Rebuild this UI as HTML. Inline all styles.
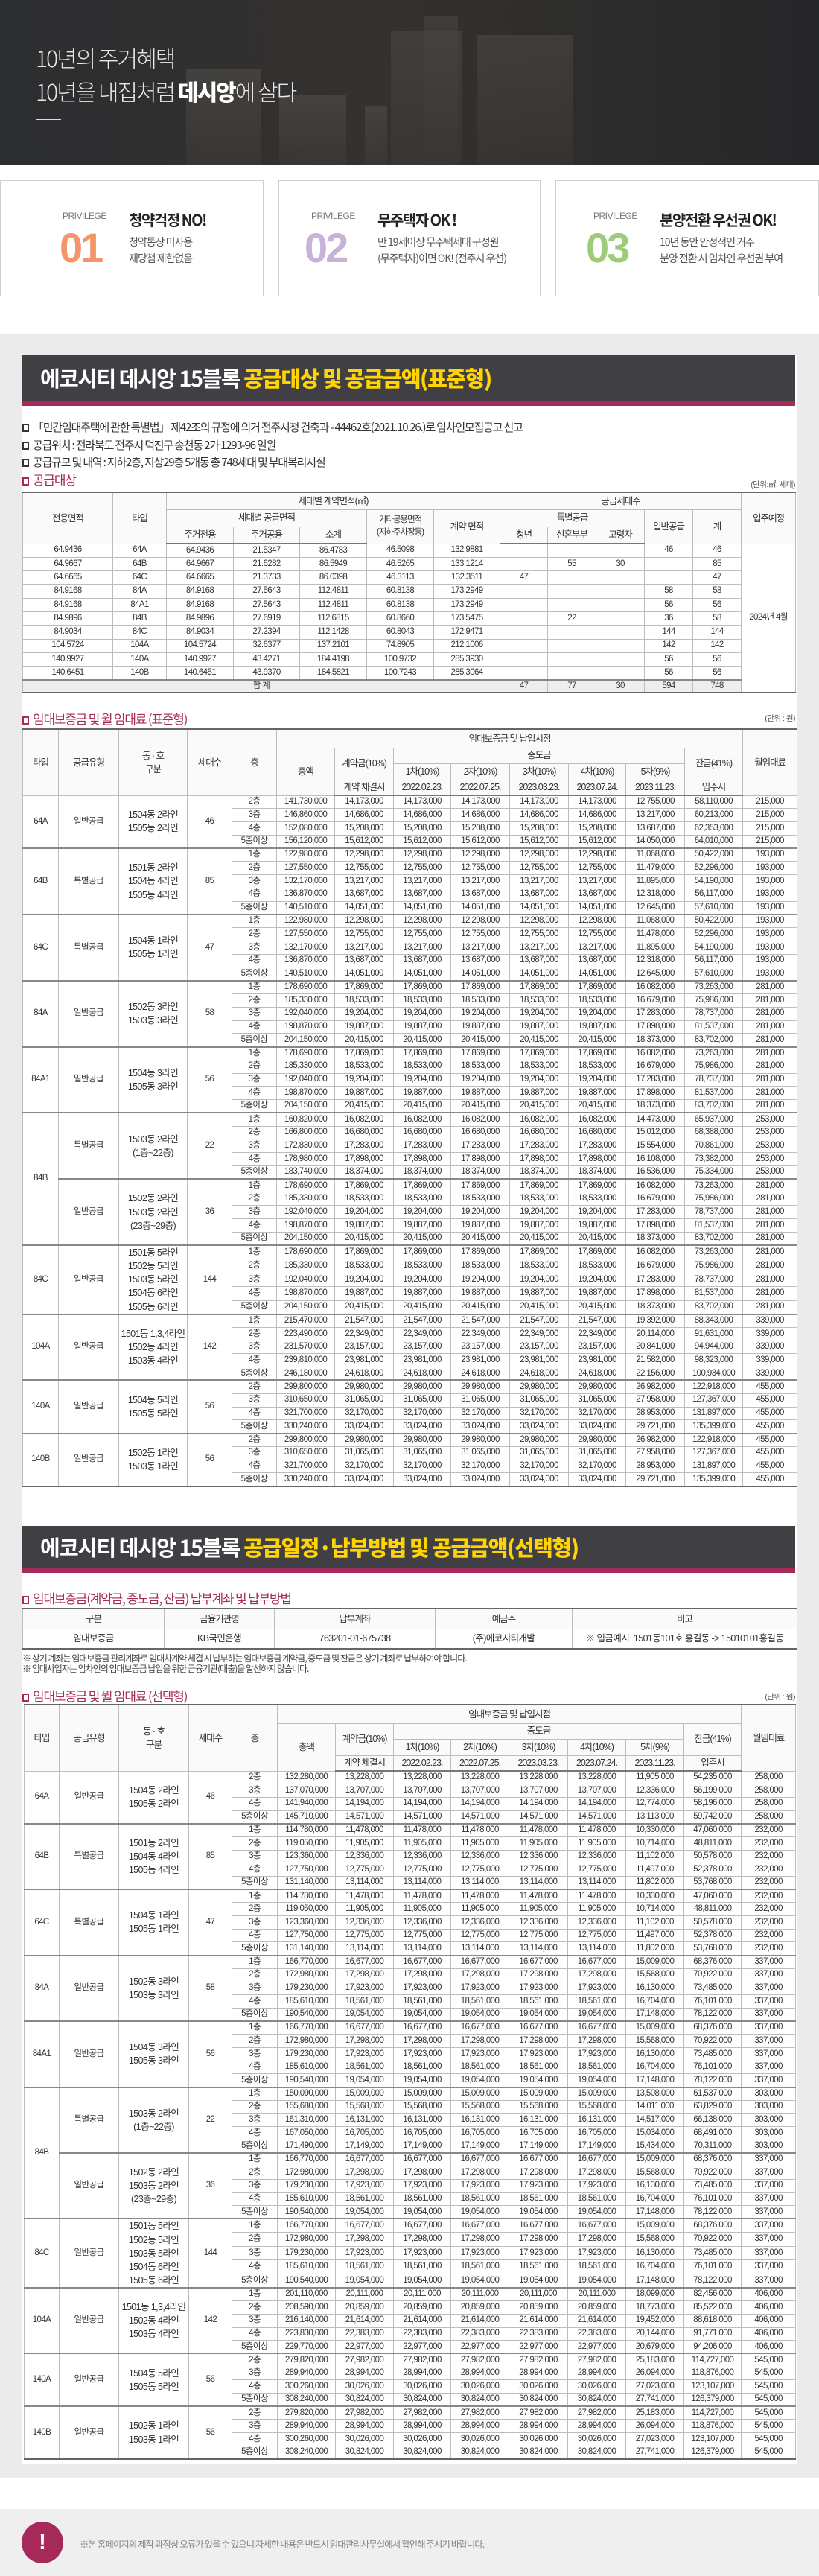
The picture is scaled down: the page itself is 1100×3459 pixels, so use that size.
<!DOCTYPE html>
<html><head><meta charset="utf-8">
<style>
*{margin:0;padding:0;box-sizing:border-box}
body{width:1100px;height:3459px;position:relative;background:#fff;font-family:"Liberation Sans","Noto Sans CJK KR",sans-serif;overflow:hidden}
.a{position:absolute}
.hero{left:0;top:0;width:1100px;height:222px;background:linear-gradient(90deg,#2c2d30 0%,#34322f 45%,#2e2d2c 70%,#252628 100%);overflow:hidden}
.bd{position:absolute;bottom:0;background:linear-gradient(180deg,#4a4744,#3a3734);opacity:.75}
.h1{left:48px;color:#e8e8e8;font-size:30px;font-weight:300;letter-spacing:-2px;font-family:"Noto Sans CJK KR",sans-serif}
.card{top:242px;height:156px;border:1px solid #cfcfcf;background:#fff}
.pv{font-size:12px;color:#777;letter-spacing:-.5px}
.num{font-size:56px;font-weight:bold;letter-spacing:-3px;line-height:1}
.ct{font-size:20px;font-weight:bold;color:#222;letter-spacing:-1.5px;font-family:"Noto Sans CJK KR",sans-serif}
.cs{font-size:14px;color:#555;letter-spacing:-1px;line-height:22px;font-family:"Noto Sans CJK KR",sans-serif}
.bar{left:30px;width:1038px;background:#3f3f44;border-bottom:7px solid #a52a5a;color:#fff;font-size:29px;font-weight:bold;letter-spacing:-1.5px;padding-left:24px;font-family:"Noto Sans CJK KR",sans-serif}
.bar b{color:#ffd400}
.bl{left:30px;font-size:15px;color:#333;letter-spacing:-1.2px;font-family:"Noto Sans CJK KR",sans-serif;white-space:nowrap}
.bl:before{content:"";display:inline-block;width:9px;height:11px;border:2px solid #333;margin-right:5px;vertical-align:-1px;box-sizing:border-box}
.bl.r{color:#a52a5a;font-size:17px}
.bl.r:before{border-color:#a52a5a}
.unit{font-size:10.5px;color:#555;letter-spacing:-.5px}
.t{position:absolute;border-collapse:collapse;table-layout:fixed;font-size:11.5px;color:#333;letter-spacing:-.6px;border-top:2px solid #666;border-bottom:2px solid #666}
.t td{border:1px solid #bdbdbd;text-align:center;padding:0;overflow:hidden;white-space:nowrap;line-height:1}
.t .hd td{background:#fafafa;font-size:12.5px;letter-spacing:-1px}
.t tr.hl td{border-bottom:2px solid #777}
.t tr.g td{border-top:2px solid #888}
.t .ml{line-height:1.45;font-size:12.5px}
.t2 tbody tr{height:17.77px}
.t3 tbody tr{height:17.7px}
.note{left:30px;font-size:12px;color:#444;letter-spacing:-1px;font-family:"Noto Sans CJK KR",sans-serif}
</style></head><body>

<div class="a hero">
 <div class="bd" style="left:250px;width:100px;height:130px"></div>
 <div class="bd" style="left:375px;width:90px;height:95px"></div>
 <div class="bd" style="left:490px;width:30px;height:80px"></div>
 <div class="bd" style="left:525px;width:95px;height:180px;opacity:.6"></div>
 <div class="bd" style="left:570px;width:45px;height:200px;opacity:.55"></div>
 <div class="bd" style="left:640px;width:130px;height:175px;opacity:.6"></div>
 <div class="a h1" style="top:55px">10년의 주거혜택</div>
 <div class="a h1" style="top:100px">10년을 내집처럼 <b style="font-weight:900;color:#fff">데시앙</b>에 살다</div>
 <div class="a" style="left:49px;top:160px;width:33px;height:1px;background:#ddd"></div>
</div>

<div class="a card" style="left:0;width:354px"></div>
<div class="a card" style="left:374px;width:352px"></div>
<div class="a card" style="left:746px;width:354px"></div>
<div class="a pv" style="left:84px;top:283px">PRIVILEGE</div>
<div class="a num" style="left:80px;top:305px;color:#f4956a">01</div>
<div class="a ct" style="left:173px;top:280px">청약걱정 NO!</div>
<div class="a cs" style="left:173px;top:314px">청약통장 미사용<br>재당첨 제한없음</div>
<div class="a pv" style="left:418px;top:283px">PRIVILEGE</div>
<div class="a num" style="left:409px;top:305px;color:#c5b3d8">02</div>
<div class="a ct" style="left:507px;top:280px">무주택자 OK !</div>
<div class="a cs" style="left:507px;top:314px">만 19세이상 무주택세대 구성원<br>(무주택자)이면 OK! (전주시 우선)</div>
<div class="a pv" style="left:797px;top:283px">PRIVILEGE</div>
<div class="a num" style="left:787px;top:305px;color:#9ccc7a">03</div>
<div class="a ct" style="left:886px;top:280px">분양전환 우선권 OK!</div>
<div class="a cs" style="left:886px;top:314px">10년 동안 안정적인 거주<br>분양 전환 시 임차인 우선권 부여</div>

<div class="a" style="left:0;top:448px;width:1100px;height:2879px;background:#ebebeb"></div>
<div class="a" style="left:29px;top:477px;width:1042px;height:2832px;background:#fff"></div>

<div class="a bar" style="top:477px;height:68px;line-height:60px">에코시티 데시앙 15블록 <b>공급대상 및 공급금액(표준형)</b></div>
<div class="a bl" style="top:563px">「민간임대주택에 관한 특별법」 제42조의 규정에 의거 전주시청 건축과 - 44462호(2021.10.26.)로 임차인모집공고 신고</div>
<div class="a bl" style="top:587px">공급위치 : 전라북도 전주시 덕진구 송천동 2가 1293-96 일원</div>
<div class="a bl" style="top:610px">공급규모 및 내역 : 지하2층, 지상29층 5개동 총 748세대 및 부대복리시설</div>
<div class="a bl r" style="top:631px">공급대상</div>
<div class="a unit" style="right:32px;top:643px">(단위:㎡, 세대)</div>

<table class="t" style="left:30px;top:660px;width:1038px">
<colgroup><col style="width:121px"><col style="width:72px"><col style="width:90px"><col style="width:89px"><col style="width:90px"><col style="width:90px"><col style="width:89px"><col style="width:64px"><col style="width:65px"><col style="width:65px"><col style="width:65px"><col style="width:65px"><col style="width:73px"></colgroup>
<tr class="hd" style="height:23px"><td rowspan="3">전용면적</td><td rowspan="3">타입</td><td colspan="5">세대별 계약면적(㎡)</td><td colspan="5">공급세대수</td><td rowspan="3">입주예정</td></tr>
<tr class="hd" style="height:23px"><td colspan="3">세대별 공급면적</td><td rowspan="2" class="ml" style="font-size:11.5px">기타공용면적<br>(지하주차장등)</td><td rowspan="2">계약 면적</td><td colspan="3">특별공급</td><td rowspan="2">일반공급</td><td rowspan="2">계</td></tr>
<tr class="hd hl" style="height:23px"><td>주거전용</td><td>주거공용</td><td>소계</td><td>청년</td><td>신혼부부</td><td>고령자</td></tr>
<tr style="height:18.3px"><td>64.9436</td><td>64A</td><td>64.9436</td><td>21.5347</td><td>86.4783</td><td>46.5098</td><td>132.9881</td><td></td><td></td><td></td><td>46</td><td>46</td><td rowspan="11">2024년 4월</td></tr>
<tr style="height:18.3px"><td>64.9667</td><td>64B</td><td>64.9667</td><td>21.6282</td><td>86.5949</td><td>46.5265</td><td>133.1214</td><td></td><td>55</td><td>30</td><td></td><td>85</td></tr>
<tr style="height:18.3px"><td>64.6665</td><td>64C</td><td>64.6665</td><td>21.3733</td><td>86.0398</td><td>46.3113</td><td>132.3511</td><td>47</td><td></td><td></td><td></td><td>47</td></tr>
<tr style="height:18.3px"><td>84.9168</td><td>84A</td><td>84.9168</td><td>27.5643</td><td>112.4811</td><td>60.8138</td><td>173.2949</td><td></td><td></td><td></td><td>58</td><td>58</td></tr>
<tr style="height:18.3px"><td>84.9168</td><td>84A1</td><td>84.9168</td><td>27.5643</td><td>112.4811</td><td>60.8138</td><td>173.2949</td><td></td><td></td><td></td><td>56</td><td>56</td></tr>
<tr style="height:18.3px"><td>84.9896</td><td>84B</td><td>84.9896</td><td>27.6919</td><td>112.6815</td><td>60.8660</td><td>173.5475</td><td></td><td>22</td><td></td><td>36</td><td>58</td></tr>
<tr style="height:18.3px"><td>84.9034</td><td>84C</td><td>84.9034</td><td>27.2394</td><td>112.1428</td><td>60.8043</td><td>172.9471</td><td></td><td></td><td></td><td>144</td><td>144</td></tr>
<tr style="height:18.3px"><td>104.5724</td><td>104A</td><td>104.5724</td><td>32.6377</td><td>137.2101</td><td>74.8905</td><td>212.1006</td><td></td><td></td><td></td><td>142</td><td>142</td></tr>
<tr style="height:18.3px"><td>140.9927</td><td>140A</td><td>140.9927</td><td>43.4271</td><td>184.4198</td><td>100.9732</td><td>285.3930</td><td></td><td></td><td></td><td>56</td><td>56</td></tr>
<tr style="height:18.3px"><td>140.6451</td><td>140B</td><td>140.6451</td><td>43.9370</td><td>184.5821</td><td>100.7243</td><td>285.3064</td><td></td><td></td><td></td><td>56</td><td>56</td></tr>
<tr class="g" style="height:17px;background:#eee"><td colspan="7">합 계</td><td>47</td><td>77</td><td>30</td><td>594</td><td>748</td></tr>
</table>

<div class="a bl r" style="top:952px">임대보증금 및 월 임대료 (표준형)</div>
<div class="a unit" style="right:32px;top:957px">(단위 : 원)</div>

<table class="t t2" style="left:30px;top:978px;width:1040px">
<colgroup><col style="width:48px"><col style="width:81px"><col style="width:92px"><col style="width:60px"><col style="width:60px"><col style="width:78px"><col style="width:79px"><col style="width:77px"><col style="width:79px"><col style="width:79px"><col style="width:77px"><col style="width:79px"><col style="width:78px"><col style="width:73px"></colgroup>
<thead>
<tr class="hd" style="height:25px"><td rowspan="4">타입</td><td rowspan="4">공급유형</td><td rowspan="4" class="ml">동 · 호<br>구분</td><td rowspan="4">세대수</td><td rowspan="4">층</td><td colspan="8">임대보증금 및 납입시점</td><td rowspan="4">월임대료</td></tr>
<tr class="hd" style="height:21px"><td rowspan="3">총액</td><td rowspan="2">계약금(10%)</td><td colspan="5">중도금</td><td rowspan="2">잔금(41%)</td></tr>
<tr class="hd" style="height:22px"><td>1차(10%)</td><td>2차(10%)</td><td>3차(10%)</td><td>4차(10%)</td><td>5차(9%)</td></tr>
<tr class="hd hl" style="height:21px"><td>계약 체결시</td><td>2022.02.23.</td><td>2022.07.25.</td><td>2023.03.23.</td><td>2023.07.24.</td><td>2023.11.23.</td><td>입주시</td></tr>
</thead>
<tbody>
<tr><td rowspan="4">64A</td><td rowspan="4">일반공급</td><td rowspan="4" class="ml">1504동 2라인<br>1505동 2라인</td><td rowspan="4">46</td><td>2층</td><td>141,730,000</td><td>14,173,000</td><td>14,173,000</td><td>14,173,000</td><td>14,173,000</td><td>14,173,000</td><td>12,755,000</td><td>58,110,000</td><td>215,000</td></tr>
<tr><td>3층</td><td>146,860,000</td><td>14,686,000</td><td>14,686,000</td><td>14,686,000</td><td>14,686,000</td><td>14,686,000</td><td>13,217,000</td><td>60,213,000</td><td>215,000</td></tr>
<tr><td>4층</td><td>152,080,000</td><td>15,208,000</td><td>15,208,000</td><td>15,208,000</td><td>15,208,000</td><td>15,208,000</td><td>13,687,000</td><td>62,353,000</td><td>215,000</td></tr>
<tr><td>5층이상</td><td>156,120,000</td><td>15,612,000</td><td>15,612,000</td><td>15,612,000</td><td>15,612,000</td><td>15,612,000</td><td>14,050,000</td><td>64,010,000</td><td>215,000</td></tr>
<tr class="g"><td rowspan="5">64B</td><td rowspan="5">특별공급</td><td rowspan="5" class="ml">1501동 2라인<br>1504동 4라인<br>1505동 4라인</td><td rowspan="5">85</td><td>1층</td><td>122,980,000</td><td>12,298,000</td><td>12,298,000</td><td>12,298,000</td><td>12,298,000</td><td>12,298,000</td><td>11,068,000</td><td>50,422,000</td><td>193,000</td></tr>
<tr><td>2층</td><td>127,550,000</td><td>12,755,000</td><td>12,755,000</td><td>12,755,000</td><td>12,755,000</td><td>12,755,000</td><td>11,479,000</td><td>52,296,000</td><td>193,000</td></tr>
<tr><td>3층</td><td>132,170,000</td><td>13,217,000</td><td>13,217,000</td><td>13,217,000</td><td>13,217,000</td><td>13,217,000</td><td>11,895,000</td><td>54,190,000</td><td>193,000</td></tr>
<tr><td>4층</td><td>136,870,000</td><td>13,687,000</td><td>13,687,000</td><td>13,687,000</td><td>13,687,000</td><td>13,687,000</td><td>12,318,000</td><td>56,117,000</td><td>193,000</td></tr>
<tr><td>5층이상</td><td>140,510,000</td><td>14,051,000</td><td>14,051,000</td><td>14,051,000</td><td>14,051,000</td><td>14,051,000</td><td>12,645,000</td><td>57,610,000</td><td>193,000</td></tr>
<tr class="g"><td rowspan="5">64C</td><td rowspan="5">특별공급</td><td rowspan="5" class="ml">1504동 1라인<br>1505동 1라인</td><td rowspan="5">47</td><td>1층</td><td>122,980,000</td><td>12,298,000</td><td>12,298,000</td><td>12,298,000</td><td>12,298,000</td><td>12,298,000</td><td>11,068,000</td><td>50,422,000</td><td>193,000</td></tr>
<tr><td>2층</td><td>127,550,000</td><td>12,755,000</td><td>12,755,000</td><td>12,755,000</td><td>12,755,000</td><td>12,755,000</td><td>11,478,000</td><td>52,296,000</td><td>193,000</td></tr>
<tr><td>3층</td><td>132,170,000</td><td>13,217,000</td><td>13,217,000</td><td>13,217,000</td><td>13,217,000</td><td>13,217,000</td><td>11,895,000</td><td>54,190,000</td><td>193,000</td></tr>
<tr><td>4층</td><td>136,870,000</td><td>13,687,000</td><td>13,687,000</td><td>13,687,000</td><td>13,687,000</td><td>13,687,000</td><td>12,318,000</td><td>56,117,000</td><td>193,000</td></tr>
<tr><td>5층이상</td><td>140,510,000</td><td>14,051,000</td><td>14,051,000</td><td>14,051,000</td><td>14,051,000</td><td>14,051,000</td><td>12,645,000</td><td>57,610,000</td><td>193,000</td></tr>
<tr class="g"><td rowspan="5">84A</td><td rowspan="5">일반공급</td><td rowspan="5" class="ml">1502동 3라인<br>1503동 3라인</td><td rowspan="5">58</td><td>1층</td><td>178,690,000</td><td>17,869,000</td><td>17,869,000</td><td>17,869,000</td><td>17,869,000</td><td>17,869,000</td><td>16,082,000</td><td>73,263,000</td><td>281,000</td></tr>
<tr><td>2층</td><td>185,330,000</td><td>18,533,000</td><td>18,533,000</td><td>18,533,000</td><td>18,533,000</td><td>18,533,000</td><td>16,679,000</td><td>75,986,000</td><td>281,000</td></tr>
<tr><td>3층</td><td>192,040,000</td><td>19,204,000</td><td>19,204,000</td><td>19,204,000</td><td>19,204,000</td><td>19,204,000</td><td>17,283,000</td><td>78,737,000</td><td>281,000</td></tr>
<tr><td>4층</td><td>198,870,000</td><td>19,887,000</td><td>19,887,000</td><td>19,887,000</td><td>19,887,000</td><td>19,887,000</td><td>17,898,000</td><td>81,537,000</td><td>281,000</td></tr>
<tr><td>5층이상</td><td>204,150,000</td><td>20,415,000</td><td>20,415,000</td><td>20,415,000</td><td>20,415,000</td><td>20,415,000</td><td>18,373,000</td><td>83,702,000</td><td>281,000</td></tr>
<tr class="g"><td rowspan="5">84A1</td><td rowspan="5">일반공급</td><td rowspan="5" class="ml">1504동 3라인<br>1505동 3라인</td><td rowspan="5">56</td><td>1층</td><td>178,690,000</td><td>17,869,000</td><td>17,869,000</td><td>17,869,000</td><td>17,869,000</td><td>17,869,000</td><td>16,082,000</td><td>73,263,000</td><td>281,000</td></tr>
<tr><td>2층</td><td>185,330,000</td><td>18,533,000</td><td>18,533,000</td><td>18,533,000</td><td>18,533,000</td><td>18,533,000</td><td>16,679,000</td><td>75,986,000</td><td>281,000</td></tr>
<tr><td>3층</td><td>192,040,000</td><td>19,204,000</td><td>19,204,000</td><td>19,204,000</td><td>19,204,000</td><td>19,204,000</td><td>17,283,000</td><td>78,737,000</td><td>281,000</td></tr>
<tr><td>4층</td><td>198,870,000</td><td>19,887,000</td><td>19,887,000</td><td>19,887,000</td><td>19,887,000</td><td>19,887,000</td><td>17,898,000</td><td>81,537,000</td><td>281,000</td></tr>
<tr><td>5층이상</td><td>204,150,000</td><td>20,415,000</td><td>20,415,000</td><td>20,415,000</td><td>20,415,000</td><td>20,415,000</td><td>18,373,000</td><td>83,702,000</td><td>281,000</td></tr>
<tr class="g"><td rowspan="10">84B</td><td rowspan="5">특별공급</td><td rowspan="5" class="ml">1503동 2라인<br>(1층~22층)</td><td rowspan="5">22</td><td>1층</td><td>160,820,000</td><td>16,082,000</td><td>16,082,000</td><td>16,082,000</td><td>16,082,000</td><td>16,082,000</td><td>14,473,000</td><td>65,937,000</td><td>253,000</td></tr>
<tr><td>2층</td><td>166,800,000</td><td>16,680,000</td><td>16,680,000</td><td>16,680,000</td><td>16,680,000</td><td>16,680,000</td><td>15,012,000</td><td>68,388,000</td><td>253,000</td></tr>
<tr><td>3층</td><td>172,830,000</td><td>17,283,000</td><td>17,283,000</td><td>17,283,000</td><td>17,283,000</td><td>17,283,000</td><td>15,554,000</td><td>70,861,000</td><td>253,000</td></tr>
<tr><td>4층</td><td>178,980,000</td><td>17,898,000</td><td>17,898,000</td><td>17,898,000</td><td>17,898,000</td><td>17,898,000</td><td>16,108,000</td><td>73,382,000</td><td>253,000</td></tr>
<tr><td>5층이상</td><td>183,740,000</td><td>18,374,000</td><td>18,374,000</td><td>18,374,000</td><td>18,374,000</td><td>18,374,000</td><td>16,536,000</td><td>75,334,000</td><td>253,000</td></tr>
<tr class="g"><td rowspan="5">일반공급</td><td rowspan="5" class="ml">1502동 2라인<br>1503동 2라인<br>(23층~29층)</td><td rowspan="5">36</td><td>1층</td><td>178,690,000</td><td>17,869,000</td><td>17,869,000</td><td>17,869,000</td><td>17,869,000</td><td>17,869,000</td><td>16,082,000</td><td>73,263,000</td><td>281,000</td></tr>
<tr><td>2층</td><td>185,330,000</td><td>18,533,000</td><td>18,533,000</td><td>18,533,000</td><td>18,533,000</td><td>18,533,000</td><td>16,679,000</td><td>75,986,000</td><td>281,000</td></tr>
<tr><td>3층</td><td>192,040,000</td><td>19,204,000</td><td>19,204,000</td><td>19,204,000</td><td>19,204,000</td><td>19,204,000</td><td>17,283,000</td><td>78,737,000</td><td>281,000</td></tr>
<tr><td>4층</td><td>198,870,000</td><td>19,887,000</td><td>19,887,000</td><td>19,887,000</td><td>19,887,000</td><td>19,887,000</td><td>17,898,000</td><td>81,537,000</td><td>281,000</td></tr>
<tr><td>5층이상</td><td>204,150,000</td><td>20,415,000</td><td>20,415,000</td><td>20,415,000</td><td>20,415,000</td><td>20,415,000</td><td>18,373,000</td><td>83,702,000</td><td>281,000</td></tr>
<tr class="g"><td rowspan="5">84C</td><td rowspan="5">일반공급</td><td rowspan="5" class="ml">1501동 5라인<br>1502동 5라인<br>1503동 5라인<br>1504동 6라인<br>1505동 6라인</td><td rowspan="5">144</td><td>1층</td><td>178,690,000</td><td>17,869,000</td><td>17,869,000</td><td>17,869,000</td><td>17,869,000</td><td>17,869,000</td><td>16,082,000</td><td>73,263,000</td><td>281,000</td></tr>
<tr><td>2층</td><td>185,330,000</td><td>18,533,000</td><td>18,533,000</td><td>18,533,000</td><td>18,533,000</td><td>18,533,000</td><td>16,679,000</td><td>75,986,000</td><td>281,000</td></tr>
<tr><td>3층</td><td>192,040,000</td><td>19,204,000</td><td>19,204,000</td><td>19,204,000</td><td>19,204,000</td><td>19,204,000</td><td>17,283,000</td><td>78,737,000</td><td>281,000</td></tr>
<tr><td>4층</td><td>198,870,000</td><td>19,887,000</td><td>19,887,000</td><td>19,887,000</td><td>19,887,000</td><td>19,887,000</td><td>17,898,000</td><td>81,537,000</td><td>281,000</td></tr>
<tr><td>5층이상</td><td>204,150,000</td><td>20,415,000</td><td>20,415,000</td><td>20,415,000</td><td>20,415,000</td><td>20,415,000</td><td>18,373,000</td><td>83,702,000</td><td>281,000</td></tr>
<tr class="g"><td rowspan="5">104A</td><td rowspan="5">일반공급</td><td rowspan="5" class="ml">1501동 1,3,4라인<br>1502동 4라인<br>1503동 4라인</td><td rowspan="5">142</td><td>1층</td><td>215,470,000</td><td>21,547,000</td><td>21,547,000</td><td>21,547,000</td><td>21,547,000</td><td>21,547,000</td><td>19,392,000</td><td>88,343,000</td><td>339,000</td></tr>
<tr><td>2층</td><td>223,490,000</td><td>22,349,000</td><td>22,349,000</td><td>22,349,000</td><td>22,349,000</td><td>22,349,000</td><td>20,114,000</td><td>91,631,000</td><td>339,000</td></tr>
<tr><td>3층</td><td>231,570,000</td><td>23,157,000</td><td>23,157,000</td><td>23,157,000</td><td>23,157,000</td><td>23,157,000</td><td>20,841,000</td><td>94,944,000</td><td>339,000</td></tr>
<tr><td>4층</td><td>239,810,000</td><td>23,981,000</td><td>23,981,000</td><td>23,981,000</td><td>23,981,000</td><td>23,981,000</td><td>21,582,000</td><td>98,323,000</td><td>339,000</td></tr>
<tr><td>5층이상</td><td>246,180,000</td><td>24,618,000</td><td>24,618,000</td><td>24,618,000</td><td>24,618,000</td><td>24,618,000</td><td>22,156,000</td><td>100,934,000</td><td>339,000</td></tr>
<tr class="g"><td rowspan="4">140A</td><td rowspan="4">일반공급</td><td rowspan="4" class="ml">1504동 5라인<br>1505동 5라인</td><td rowspan="4">56</td><td>2층</td><td>299,800,000</td><td>29,980,000</td><td>29,980,000</td><td>29,980,000</td><td>29,980,000</td><td>29,980,000</td><td>26,982,000</td><td>122,918,000</td><td>455,000</td></tr>
<tr><td>3층</td><td>310,650,000</td><td>31,065,000</td><td>31,065,000</td><td>31,065,000</td><td>31,065,000</td><td>31,065,000</td><td>27,958,000</td><td>127,367,000</td><td>455,000</td></tr>
<tr><td>4층</td><td>321,700,000</td><td>32,170,000</td><td>32,170,000</td><td>32,170,000</td><td>32,170,000</td><td>32,170,000</td><td>28,953,000</td><td>131,897,000</td><td>455,000</td></tr>
<tr><td>5층이상</td><td>330,240,000</td><td>33,024,000</td><td>33,024,000</td><td>33,024,000</td><td>33,024,000</td><td>33,024,000</td><td>29,721,000</td><td>135,399,000</td><td>455,000</td></tr>
<tr class="g"><td rowspan="4">140B</td><td rowspan="4">일반공급</td><td rowspan="4" class="ml">1502동 1라인<br>1503동 1라인</td><td rowspan="4">56</td><td>2층</td><td>299,800,000</td><td>29,980,000</td><td>29,980,000</td><td>29,980,000</td><td>29,980,000</td><td>29,980,000</td><td>26,982,000</td><td>122,918,000</td><td>455,000</td></tr>
<tr><td>3층</td><td>310,650,000</td><td>31,065,000</td><td>31,065,000</td><td>31,065,000</td><td>31,065,000</td><td>31,065,000</td><td>27,958,000</td><td>127,367,000</td><td>455,000</td></tr>
<tr><td>4층</td><td>321,700,000</td><td>32,170,000</td><td>32,170,000</td><td>32,170,000</td><td>32,170,000</td><td>32,170,000</td><td>28,953,000</td><td>131,897,000</td><td>455,000</td></tr>
<tr><td>5층이상</td><td>330,240,000</td><td>33,024,000</td><td>33,024,000</td><td>33,024,000</td><td>33,024,000</td><td>33,024,000</td><td>29,721,000</td><td>135,399,000</td><td>455,000</td></tr>
</tbody></table>

<div class="a bar" style="top:2049px;height:63px;line-height:56px">에코시티 데시앙 15블록 <b>공급일정·납부방법 및 공급금액(선택형)</b></div>
<div class="a bl r" style="top:2133px">임대보증금(계약금, 중도금, 잔금) 납부계좌 및 납부방법</div>
<table class="t" style="left:30px;top:2159px;width:1040px;font-size:12.5px">
<colgroup><col style="width:190px"><col style="width:148px"><col style="width:216px"><col style="width:184px"><col style="width:302px"></colgroup>
<tr class="hd" style="height:27px"><td>구분</td><td>금융기관명</td><td>납부계좌</td><td>예금주</td><td>비고</td></tr>
<tr style="height:27px"><td>임대보증금</td><td>KB국민은행</td><td>763201-01-675738</td><td>(주)에코시티개발</td><td>※ 입금예시 &nbsp;1501동101호 홍길동 -&gt; 15010101홍길동</td></tr>
</table>
<div class="a note" style="top:2218px">※ 상기 계좌는 임대보증금 관리계좌로 임대차계약 체결 시 납부하는 임대보증금 계약금, 중도금 및 잔금은 상기 계좌로 납부하여야 합니다.</div>
<div class="a note" style="top:2232px">※ 임대사업자는 임차인의 임대보증금 납입을 위한 금융기관(대출)을 알선하지 않습니다.</div>
<div class="a bl r" style="top:2264px">임대보증금 및 월 임대료 (선택형)</div>
<div class="a unit" style="right:32px;top:2271px">(단위 : 원)</div>

<table class="t t3" style="left:32px;top:2288px;width:1036px">
<colgroup><col style="width:47px"><col style="width:80px"><col style="width:94px"><col style="width:58px"><col style="width:61px"><col style="width:78px"><col style="width:78px"><col style="width:77px"><col style="width:78px"><col style="width:79px"><col style="width:78px"><col style="width:78px"><col style="width:77px"><col style="width:73px"></colgroup>
<thead>
<tr class="hd" style="height:25px"><td rowspan="4">타입</td><td rowspan="4">공급유형</td><td rowspan="4" class="ml">동 · 호<br>구분</td><td rowspan="4">세대수</td><td rowspan="4">층</td><td colspan="8">임대보증금 및 납입시점</td><td rowspan="4">월임대료</td></tr>
<tr class="hd" style="height:21px"><td rowspan="3">총액</td><td rowspan="2">계약금(10%)</td><td colspan="5">중도금</td><td rowspan="2">잔금(41%)</td></tr>
<tr class="hd" style="height:22px"><td>1차(10%)</td><td>2차(10%)</td><td>3차(10%)</td><td>4차(10%)</td><td>5차(9%)</td></tr>
<tr class="hd hl" style="height:21px"><td>계약 체결시</td><td>2022.02.23.</td><td>2022.07.25.</td><td>2023.03.23.</td><td>2023.07.24.</td><td>2023.11.23.</td><td>입주시</td></tr>
</thead>
<tbody>
<tr><td rowspan="4">64A</td><td rowspan="4">일반공급</td><td rowspan="4" class="ml">1504동 2라인<br>1505동 2라인</td><td rowspan="4">46</td><td>2층</td><td>132,280,000</td><td>13,228,000</td><td>13,228,000</td><td>13,228,000</td><td>13,228,000</td><td>13,228,000</td><td>11,905,000</td><td>54,235,000</td><td>258,000</td></tr>
<tr><td>3층</td><td>137,070,000</td><td>13,707,000</td><td>13,707,000</td><td>13,707,000</td><td>13,707,000</td><td>13,707,000</td><td>12,336,000</td><td>56,199,000</td><td>258,000</td></tr>
<tr><td>4층</td><td>141,940,000</td><td>14,194,000</td><td>14,194,000</td><td>14,194,000</td><td>14,194,000</td><td>14,194,000</td><td>12,774,000</td><td>58,196,000</td><td>258,000</td></tr>
<tr><td>5층이상</td><td>145,710,000</td><td>14,571,000</td><td>14,571,000</td><td>14,571,000</td><td>14,571,000</td><td>14,571,000</td><td>13,113,000</td><td>59,742,000</td><td>258,000</td></tr>
<tr class="g"><td rowspan="5">64B</td><td rowspan="5">특별공급</td><td rowspan="5" class="ml">1501동 2라인<br>1504동 4라인<br>1505동 4라인</td><td rowspan="5">85</td><td>1층</td><td>114,780,000</td><td>11,478,000</td><td>11,478,000</td><td>11,478,000</td><td>11,478,000</td><td>11,478,000</td><td>10,330,000</td><td>47,060,000</td><td>232,000</td></tr>
<tr><td>2층</td><td>119,050,000</td><td>11,905,000</td><td>11,905,000</td><td>11,905,000</td><td>11,905,000</td><td>11,905,000</td><td>10,714,000</td><td>48,811,000</td><td>232,000</td></tr>
<tr><td>3층</td><td>123,360,000</td><td>12,336,000</td><td>12,336,000</td><td>12,336,000</td><td>12,336,000</td><td>12,336,000</td><td>11,102,000</td><td>50,578,000</td><td>232,000</td></tr>
<tr><td>4층</td><td>127,750,000</td><td>12,775,000</td><td>12,775,000</td><td>12,775,000</td><td>12,775,000</td><td>12,775,000</td><td>11,497,000</td><td>52,378,000</td><td>232,000</td></tr>
<tr><td>5층이상</td><td>131,140,000</td><td>13,114,000</td><td>13,114,000</td><td>13,114,000</td><td>13,114,000</td><td>13,114,000</td><td>11,802,000</td><td>53,768,000</td><td>232,000</td></tr>
<tr class="g"><td rowspan="5">64C</td><td rowspan="5">특별공급</td><td rowspan="5" class="ml">1504동 1라인<br>1505동 1라인</td><td rowspan="5">47</td><td>1층</td><td>114,780,000</td><td>11,478,000</td><td>11,478,000</td><td>11,478,000</td><td>11,478,000</td><td>11,478,000</td><td>10,330,000</td><td>47,060,000</td><td>232,000</td></tr>
<tr><td>2층</td><td>119,050,000</td><td>11,905,000</td><td>11,905,000</td><td>11,905,000</td><td>11,905,000</td><td>11,905,000</td><td>10,714,000</td><td>48,811,000</td><td>232,000</td></tr>
<tr><td>3층</td><td>123,360,000</td><td>12,336,000</td><td>12,336,000</td><td>12,336,000</td><td>12,336,000</td><td>12,336,000</td><td>11,102,000</td><td>50,578,000</td><td>232,000</td></tr>
<tr><td>4층</td><td>127,750,000</td><td>12,775,000</td><td>12,775,000</td><td>12,775,000</td><td>12,775,000</td><td>12,775,000</td><td>11,497,000</td><td>52,378,000</td><td>232,000</td></tr>
<tr><td>5층이상</td><td>131,140,000</td><td>13,114,000</td><td>13,114,000</td><td>13,114,000</td><td>13,114,000</td><td>13,114,000</td><td>11,802,000</td><td>53,768,000</td><td>232,000</td></tr>
<tr class="g"><td rowspan="5">84A</td><td rowspan="5">일반공급</td><td rowspan="5" class="ml">1502동 3라인<br>1503동 3라인</td><td rowspan="5">58</td><td>1층</td><td>166,770,000</td><td>16,677,000</td><td>16,677,000</td><td>16,677,000</td><td>16,677,000</td><td>16,677,000</td><td>15,009,000</td><td>68,376,000</td><td>337,000</td></tr>
<tr><td>2층</td><td>172,980,000</td><td>17,298,000</td><td>17,298,000</td><td>17,298,000</td><td>17,298,000</td><td>17,298,000</td><td>15,568,000</td><td>70,922,000</td><td>337,000</td></tr>
<tr><td>3층</td><td>179,230,000</td><td>17,923,000</td><td>17,923,000</td><td>17,923,000</td><td>17,923,000</td><td>17,923,000</td><td>16,130,000</td><td>73,485,000</td><td>337,000</td></tr>
<tr><td>4층</td><td>185,610,000</td><td>18,561,000</td><td>18,561,000</td><td>18,561,000</td><td>18,561,000</td><td>18,561,000</td><td>16,704,000</td><td>76,101,000</td><td>337,000</td></tr>
<tr><td>5층이상</td><td>190,540,000</td><td>19,054,000</td><td>19,054,000</td><td>19,054,000</td><td>19,054,000</td><td>19,054,000</td><td>17,148,000</td><td>78,122,000</td><td>337,000</td></tr>
<tr class="g"><td rowspan="5">84A1</td><td rowspan="5">일반공급</td><td rowspan="5" class="ml">1504동 3라인<br>1505동 3라인</td><td rowspan="5">56</td><td>1층</td><td>166,770,000</td><td>16,677,000</td><td>16,677,000</td><td>16,677,000</td><td>16,677,000</td><td>16,677,000</td><td>15,009,000</td><td>68,376,000</td><td>337,000</td></tr>
<tr><td>2층</td><td>172,980,000</td><td>17,298,000</td><td>17,298,000</td><td>17,298,000</td><td>17,298,000</td><td>17,298,000</td><td>15,568,000</td><td>70,922,000</td><td>337,000</td></tr>
<tr><td>3층</td><td>179,230,000</td><td>17,923,000</td><td>17,923,000</td><td>17,923,000</td><td>17,923,000</td><td>17,923,000</td><td>16,130,000</td><td>73,485,000</td><td>337,000</td></tr>
<tr><td>4층</td><td>185,610,000</td><td>18,561,000</td><td>18,561,000</td><td>18,561,000</td><td>18,561,000</td><td>18,561,000</td><td>16,704,000</td><td>76,101,000</td><td>337,000</td></tr>
<tr><td>5층이상</td><td>190,540,000</td><td>19,054,000</td><td>19,054,000</td><td>19,054,000</td><td>19,054,000</td><td>19,054,000</td><td>17,148,000</td><td>78,122,000</td><td>337,000</td></tr>
<tr class="g"><td rowspan="10">84B</td><td rowspan="5">특별공급</td><td rowspan="5" class="ml">1503동 2라인<br>(1층~22층)</td><td rowspan="5">22</td><td>1층</td><td>150,090,000</td><td>15,009,000</td><td>15,009,000</td><td>15,009,000</td><td>15,009,000</td><td>15,009,000</td><td>13,508,000</td><td>61,537,000</td><td>303,000</td></tr>
<tr><td>2층</td><td>155,680,000</td><td>15,568,000</td><td>15,568,000</td><td>15,568,000</td><td>15,568,000</td><td>15,568,000</td><td>14,011,000</td><td>63,829,000</td><td>303,000</td></tr>
<tr><td>3층</td><td>161,310,000</td><td>16,131,000</td><td>16,131,000</td><td>16,131,000</td><td>16,131,000</td><td>16,131,000</td><td>14,517,000</td><td>66,138,000</td><td>303,000</td></tr>
<tr><td>4층</td><td>167,050,000</td><td>16,705,000</td><td>16,705,000</td><td>16,705,000</td><td>16,705,000</td><td>16,705,000</td><td>15,034,000</td><td>68,491,000</td><td>303,000</td></tr>
<tr><td>5층이상</td><td>171,490,000</td><td>17,149,000</td><td>17,149,000</td><td>17,149,000</td><td>17,149,000</td><td>17,149,000</td><td>15,434,000</td><td>70,311,000</td><td>303,000</td></tr>
<tr class="g"><td rowspan="5">일반공급</td><td rowspan="5" class="ml">1502동 2라인<br>1503동 2라인<br>(23층~29층)</td><td rowspan="5">36</td><td>1층</td><td>166,770,000</td><td>16,677,000</td><td>16,677,000</td><td>16,677,000</td><td>16,677,000</td><td>16,677,000</td><td>15,009,000</td><td>68,376,000</td><td>337,000</td></tr>
<tr><td>2층</td><td>172,980,000</td><td>17,298,000</td><td>17,298,000</td><td>17,298,000</td><td>17,298,000</td><td>17,298,000</td><td>15,568,000</td><td>70,922,000</td><td>337,000</td></tr>
<tr><td>3층</td><td>179,230,000</td><td>17,923,000</td><td>17,923,000</td><td>17,923,000</td><td>17,923,000</td><td>17,923,000</td><td>16,130,000</td><td>73,485,000</td><td>337,000</td></tr>
<tr><td>4층</td><td>185,610,000</td><td>18,561,000</td><td>18,561,000</td><td>18,561,000</td><td>18,561,000</td><td>18,561,000</td><td>16,704,000</td><td>76,101,000</td><td>337,000</td></tr>
<tr><td>5층이상</td><td>190,540,000</td><td>19,054,000</td><td>19,054,000</td><td>19,054,000</td><td>19,054,000</td><td>19,054,000</td><td>17,148,000</td><td>78,122,000</td><td>337,000</td></tr>
<tr class="g"><td rowspan="5">84C</td><td rowspan="5">일반공급</td><td rowspan="5" class="ml">1501동 5라인<br>1502동 5라인<br>1503동 5라인<br>1504동 6라인<br>1505동 6라인</td><td rowspan="5">144</td><td>1층</td><td>166,770,000</td><td>16,677,000</td><td>16,677,000</td><td>16,677,000</td><td>16,677,000</td><td>16,677,000</td><td>15,009,000</td><td>68,376,000</td><td>337,000</td></tr>
<tr><td>2층</td><td>172,980,000</td><td>17,298,000</td><td>17,298,000</td><td>17,298,000</td><td>17,298,000</td><td>17,298,000</td><td>15,568,000</td><td>70,922,000</td><td>337,000</td></tr>
<tr><td>3층</td><td>179,230,000</td><td>17,923,000</td><td>17,923,000</td><td>17,923,000</td><td>17,923,000</td><td>17,923,000</td><td>16,130,000</td><td>73,485,000</td><td>337,000</td></tr>
<tr><td>4층</td><td>185,610,000</td><td>18,561,000</td><td>18,561,000</td><td>18,561,000</td><td>18,561,000</td><td>18,561,000</td><td>16,704,000</td><td>76,101,000</td><td>337,000</td></tr>
<tr><td>5층이상</td><td>190,540,000</td><td>19,054,000</td><td>19,054,000</td><td>19,054,000</td><td>19,054,000</td><td>19,054,000</td><td>17,148,000</td><td>78,122,000</td><td>337,000</td></tr>
<tr class="g"><td rowspan="5">104A</td><td rowspan="5">일반공급</td><td rowspan="5" class="ml">1501동 1,3,4라인<br>1502동 4라인<br>1503동 4라인</td><td rowspan="5">142</td><td>1층</td><td>201,110,000</td><td>20,111,000</td><td>20,111,000</td><td>20,111,000</td><td>20,111,000</td><td>20,111,000</td><td>18,099,000</td><td>82,456,000</td><td>406,000</td></tr>
<tr><td>2층</td><td>208,590,000</td><td>20,859,000</td><td>20,859,000</td><td>20,859,000</td><td>20,859,000</td><td>20,859,000</td><td>18,773,000</td><td>85,522,000</td><td>406,000</td></tr>
<tr><td>3층</td><td>216,140,000</td><td>21,614,000</td><td>21,614,000</td><td>21,614,000</td><td>21,614,000</td><td>21,614,000</td><td>19,452,000</td><td>88,618,000</td><td>406,000</td></tr>
<tr><td>4층</td><td>223,830,000</td><td>22,383,000</td><td>22,383,000</td><td>22,383,000</td><td>22,383,000</td><td>22,383,000</td><td>20,144,000</td><td>91,771,000</td><td>406,000</td></tr>
<tr><td>5층이상</td><td>229,770,000</td><td>22,977,000</td><td>22,977,000</td><td>22,977,000</td><td>22,977,000</td><td>22,977,000</td><td>20,679,000</td><td>94,206,000</td><td>406,000</td></tr>
<tr class="g"><td rowspan="4">140A</td><td rowspan="4">일반공급</td><td rowspan="4" class="ml">1504동 5라인<br>1505동 5라인</td><td rowspan="4">56</td><td>2층</td><td>279,820,000</td><td>27,982,000</td><td>27,982,000</td><td>27,982,000</td><td>27,982,000</td><td>27,982,000</td><td>25,183,000</td><td>114,727,000</td><td>545,000</td></tr>
<tr><td>3층</td><td>289,940,000</td><td>28,994,000</td><td>28,994,000</td><td>28,994,000</td><td>28,994,000</td><td>28,994,000</td><td>26,094,000</td><td>118,876,000</td><td>545,000</td></tr>
<tr><td>4층</td><td>300,260,000</td><td>30,026,000</td><td>30,026,000</td><td>30,026,000</td><td>30,026,000</td><td>30,026,000</td><td>27,023,000</td><td>123,107,000</td><td>545,000</td></tr>
<tr><td>5층이상</td><td>308,240,000</td><td>30,824,000</td><td>30,824,000</td><td>30,824,000</td><td>30,824,000</td><td>30,824,000</td><td>27,741,000</td><td>126,379,000</td><td>545,000</td></tr>
<tr class="g"><td rowspan="4">140B</td><td rowspan="4">일반공급</td><td rowspan="4" class="ml">1502동 1라인<br>1503동 1라인</td><td rowspan="4">56</td><td>2층</td><td>279,820,000</td><td>27,982,000</td><td>27,982,000</td><td>27,982,000</td><td>27,982,000</td><td>27,982,000</td><td>25,183,000</td><td>114,727,000</td><td>545,000</td></tr>
<tr><td>3층</td><td>289,940,000</td><td>28,994,000</td><td>28,994,000</td><td>28,994,000</td><td>28,994,000</td><td>28,994,000</td><td>26,094,000</td><td>118,876,000</td><td>545,000</td></tr>
<tr><td>4층</td><td>300,260,000</td><td>30,026,000</td><td>30,026,000</td><td>30,026,000</td><td>30,026,000</td><td>30,026,000</td><td>27,023,000</td><td>123,107,000</td><td>545,000</td></tr>
<tr><td>5층이상</td><td>308,240,000</td><td>30,824,000</td><td>30,824,000</td><td>30,824,000</td><td>30,824,000</td><td>30,824,000</td><td>27,741,000</td><td>126,379,000</td><td>545,000</td></tr>
</tbody></table>

<div class="a" style="left:0;top:3369px;width:1100px;height:90px;background:#efefef"></div>
<div class="a" style="left:29px;top:3386px;width:56px;height:56px;border-radius:50%;background:#a52a5a;color:#fff;font-size:30px;font-weight:bold;text-align:center;line-height:56px">!</div>
<div class="a" style="left:107px;top:3406px;font-size:12.5px;color:#888;letter-spacing:-1px;font-family:'Noto Sans CJK KR',sans-serif">※본 홈페이지의 제작 과정상 오류가 있을 수 있으니 자세한 내용은 반드시 임대관리사무실에서 확인해 주시기 바랍니다.</div>
</body></html>
